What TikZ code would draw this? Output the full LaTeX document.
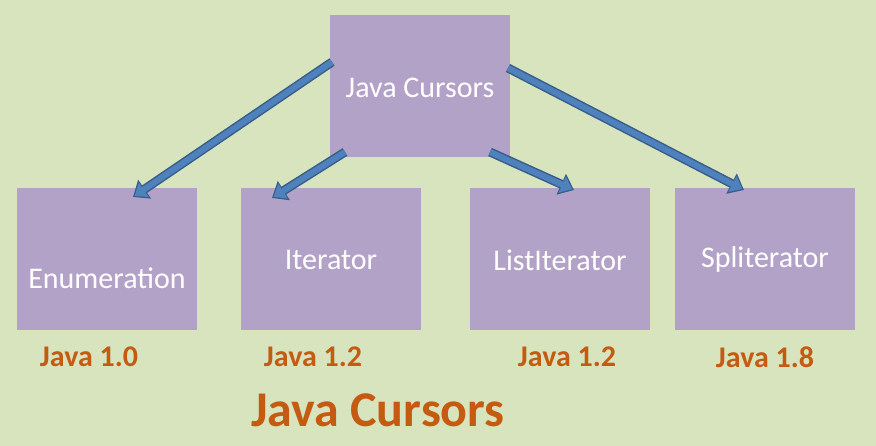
\documentclass[tikz,border=0pt]{standalone}
\usepackage{fontspec}
\setmainfont{Carlito}
\usetikzlibrary{arrows.meta}
\definecolor{bg}{HTML}{D7E4BD}
\definecolor{box}{HTML}{B3A2C7}
\definecolor{arr}{HTML}{4F81BD}
\definecolor{arrd}{HTML}{385D8A}
\definecolor{org}{HTML}{C55A11}
\tikzset{
  pbox/.style={fill=box,draw=none,minimum width=180pt,minimum height=142pt,inner sep=0pt},
  btxt/.style={text=white,font=\fontsize{30}{34}\selectfont},
  barrow/.style={line width=9pt,draw=arrd,-{Triangle[length=14pt,width=22pt]}},
  barrowin/.style={line width=6pt,draw=arr,shorten >=2pt,-{Triangle[length=11pt,width=17pt]}},
  ver/.style={text=org,font=\bfseries\fontsize{30}{34}\selectfont},
}
\begin{document}
\begin{tikzpicture}[x=1pt,y=-1pt]
\fill[bg] (0,0) rectangle (876,446);
\useasboundingbox (0,0) rectangle (876,446);
\node[pbox] (top) at (420,86) {};
\node[pbox] (enum) at (107,259) {};
\node[pbox] (iter) at (331,259) {};
\node[pbox] (list) at (560,259) {};
\node[pbox] (spl) at (765,259) {};
\coordinate (s1) at (332,62);
\coordinate (e1) at (133,197);
\coordinate (s2) at (345,152);
\coordinate (e2) at (272,198);
\coordinate (s3) at (490,152);
\coordinate (e3) at (574,190);
\coordinate (s4) at (508,68);
\coordinate (e4) at (744,190);
\foreach \s/\e in {s1/e1,s2/e2,s3/e3,s4/e4}{
  \draw[barrow] (\s) -- (\e);
  \draw[barrowin] (\s) -- (\e);
}
\node[btxt] (tt) at (420,88) {Java Cursors};
\node[btxt] (t1) at (107,278) {Enumeration};
\node[btxt] (t2) at (331,260) {Iterator};
\node[btxt] (t3) at (560,260) {ListIterator};
\node[btxt] (t4) at (765,260) {Spliterator};
\node[ver] (v1) at (89,357) {Java 1.0};
\node[ver] (v2) at (313,357) {Java 1.2};
\node[ver] (v3) at (567,357) {Java 1.2};
\node[ver] (v4) at (765,357) {Java 1.8};
\node[text=org,font=\bfseries\fontsize{50}{54}\selectfont] (title) at (378,410) {Java Cursors};
\end{tikzpicture}
\end{document}
